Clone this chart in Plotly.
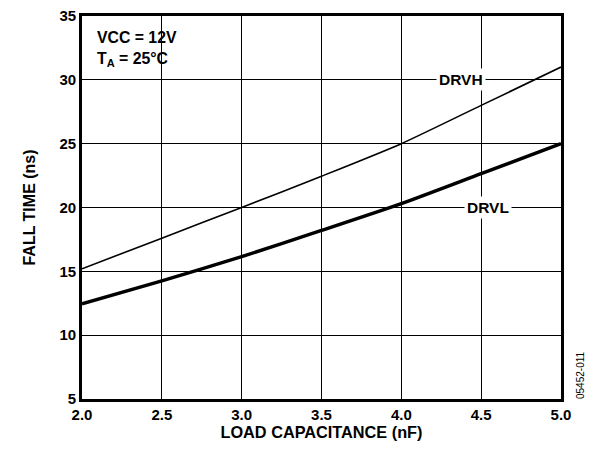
import plotly.graph_objects as go

cap_nf = [2.0, 2.5, 3.0, 3.5, 4.0, 4.5, 5.0]
drvh_ns = [15.2, 17.6, 20.0, 22.45, 25.0, 28.0, 31.0]
drvl_ns = [12.45, 14.25, 16.15, 18.2, 20.3, 22.65, 25.0]
x_ticks = [2.0, 2.5, 3.0, 3.5, 4.0, 4.5, 5.0]
x_tick_text = ["2.0", "2.5", "3.0", "3.5", "4.0", "4.5", "5.0"]
y_ticks = [5, 10, 15, 20, 25, 30, 35]

FONT = "Liberation Sans, Arial, sans-serif"

fig = go.Figure()
fig.add_trace(go.Scatter(x=cap_nf, y=drvh_ns, mode="lines", line=dict(color="black", width=1.6, shape="spline", smoothing=0.6), showlegend=False))
fig.add_trace(go.Scatter(x=cap_nf, y=drvl_ns, mode="lines", line=dict(color="black", width=3.4, shape="spline", smoothing=0.6), showlegend=False))

fig.update_layout(
    width=578, height=437,
    margin=dict(l=74, r=25, t=8, b=46),
    paper_bgcolor="white", plot_bgcolor="white",
    font=dict(family=FONT, color="black", size=15),
    xaxis=dict(range=[2.0, 5.0], tickvals=x_ticks, ticktext=x_tick_text,
               showgrid=True, gridcolor="black", gridwidth=1.3,
               showline=True, linecolor="black", linewidth=2.6, mirror=True,
               ticks="", zeroline=False, automargin=False, ticklabeloverflow="allow",
               tickfont=dict(family=FONT, size=15, color="black", weight="bold"),
               title=dict(text="<b>LOAD CAPACITANCE (nF)</b>", font=dict(size=16.3), standoff=0)),
    yaxis=dict(range=[5, 35], tickvals=y_ticks,
               showgrid=True, gridcolor="black", gridwidth=1.3,
               showline=True, linecolor="black", linewidth=2.6, mirror=True,
               ticks="", zeroline=False, automargin=False, ticklabeloverflow="allow",
               tickfont=dict(family=FONT, size=15, color="black", weight="bold"),
               title=dict(text="<b>FALL TIME (ns)</b>", font=dict(size=16), standoff=20)),
)

fig.add_annotation(x=4.375, y=30, text="<b>DRVH</b>", showarrow=False, bgcolor="white",
                   font=dict(size=15.5), xanchor="center", yanchor="middle", borderpad=2)
fig.add_annotation(x=4.54, y=20, text="<b>DRVL</b>", showarrow=False, bgcolor="white",
                   font=dict(size=15.5), xanchor="center", yanchor="middle", borderpad=2)
fig.add_annotation(x=0.027, y=0.97, xref="paper", yref="paper", align="left",
                   text="<b>VCC = 12V<br>T<sub>A</sub> = 25°C</b>", showarrow=False,
                   font=dict(size=15.8), xanchor="left", yanchor="top")
fig.add_annotation(x=1.0, y=0.0, xref="paper", yref="paper", xshift=19, yshift=24,
                   text="05452-011", textangle=-90, showarrow=False,
                   font=dict(size=10), xanchor="center", yanchor="middle")

fig.write_html("out.html")
